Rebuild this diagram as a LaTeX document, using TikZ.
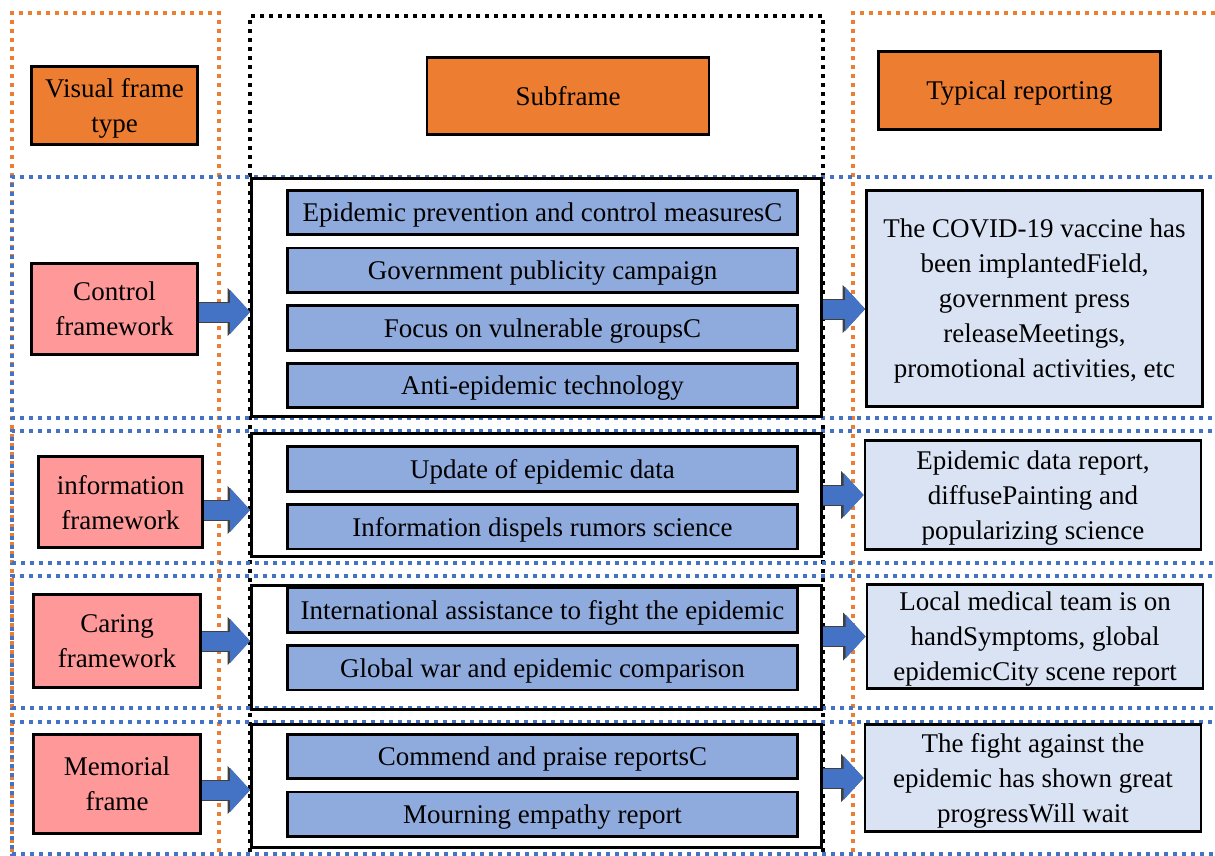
\documentclass[tikz,border=0pt]{standalone}
\usepackage{fontspec}
\setmainfont{Liberation Serif}
\usetikzlibrary{positioning,calc,arrows.meta}
\definecolor{hdrorange}{HTML}{ED7D31}
\definecolor{frmpink}{HTML}{FF9999}
\definecolor{subblue}{HTML}{8FAADC}
\definecolor{replight}{HTML}{DAE3F3}
\definecolor{arrblue}{HTML}{4472C4}
\begin{document}
\begin{tikzpicture}[x=1pt,y=-1pt,
				every node/.style={draw,line width=2.8pt,inner sep=0pt,text depth=0pt,align=center,font=\fontsize{27pt}{35pt}\selectfont},
				hdr/.style={fill=hdrorange,minimum width=282pt,minimum height=78pt},
				frm/.style={fill=frmpink,minimum width=166pt},
				sub/.style={fill=subblue,minimum width=510pt,minimum height=44.5pt,node distance=10.4pt},
				rep/.style={fill=replight,minimum width=336pt},
				grp/.style={minimum width=570pt},
				dots/.style={line width=3.5pt,dash pattern=on 4pt off 5pt},
				odots/.style={dots,draw=hdrorange},
				bdots/.style={dots,draw=arrblue},
				kdots/.style={dots,draw=black},
				arr/.style={draw=arrblue,line width=19pt,-{Triangle[length=20pt,width=44pt,line width=0pt]},
					preaction={draw=black!75,line width=21pt,-{Triangle[length=22.5pt,width=48pt,line width=0pt]}}}]
				\useasboundingbox (0,0) rectangle (1215,856);
				% column and row frames
				\draw[odots] (12,870) -- (12,13) -- (219,13) -- (219,870);
				\draw[odots] (853,870) -- (853,13) -- (1230,13);
				\draw[kdots] (250,870) -- (250,16) -- (823,16) -- (823,870);
				\draw[bdots] (1230,177) -- (12,177) -- (12,418) -- (1230,418);
				\draw[bdots] (1230,431) -- (12,431) -- (12,563) -- (1230,563);
				\draw[bdots] (1230,576) -- (12,576) -- (12,708) -- (1230,708);
				\draw[bdots] (1230,722) -- (12,722) -- (12,854) -- (1230,854);
				
				\node (H1) [hdr,minimum width=166pt] at (114.5,105.5) {Visual frame\\type};
				\node (H2) [hdr,minimum height=77pt] at (568,96)     {Subframe};
				\node (H3) [hdr]                     at (1019.5,90.5) {Typical reporting};
				
				\node (G1) [grp,minimum height=238pt] at (536.5,297.5) {};
				\node (G2) [grp,minimum height=123pt] at (536.5,495)   {};
				\node (G3) [grp,minimum height=124pt] at (536.5,647.5) {};
				\node (G4) [grp,minimum height=123pt] at (536.5,786)   {};
				
				\node (C1) [frm,minimum height=91pt]                     at (114.5,309) {Control\\framework};
				\node (C2) [frm,minimum height=91pt,minimum width=164pt] at (120.5,502) {information\\framework};
				\node (C3) [frm,minimum height=93pt,minimum width=167pt] at (117,641)   {Caring\\framework};
				\node (C4) [frm,minimum height=99pt,minimum width=167pt] at (117,784)   {Memorial\\frame};
				
				\node (S11) [sub] at (542.5,212.5) {Epidemic prevention and control measuresC};
				\node (S12) [sub,below=of S11]     {Government publicity campaign};
				\node (S13) [sub,below=of S12]     {Focus on vulnerable groupsC};
				\node (S14) [sub,below=of S13]     {Anti-epidemic technology};
				\node (S21) [sub] at (542.5,469)   {Update of epidemic data};
				\node (S22) [sub,below=of S21]     {Information dispels rumors science};
				\node (S31) [sub] at (542.5,610)   {International assistance to fight the epidemic};
				\node (S32) [sub,below=of S31]     {Global war and epidemic comparison};
				\node (S41) [sub] at (542.5,756.5) {Commend and praise reportsC};
				\node (S42) [sub,below=of S41]     {Mourning empathy report};
				
				\node (R1) [rep,minimum height=216pt] at (1034.5,298.5) {The COVID-19 vaccine has\\been implantedField,\\government press\\releaseMeetings,\\promotional activities, etc};
				\node (R2) [rep,minimum height=109pt] at (1033,495)     {Epidemic data report,\\diffusePainting and\\popularizing science};
				\node (R3) [rep,minimum height=104pt] at (1035,636.5)   {Local medical team is on\\handSymptoms, global\\epidemicCity scene report};
				\node (R4) [rep,minimum height=107pt] at (1033,778)     {The fight against the\\epidemic has shown great\\progressWill wait};
				
				\draw[arr] ([yshift=-3pt]C1.east) -- ([yshift=-3pt]C1.east -| G1.west);
				\draw[arr] ([yshift=-8pt]C2.east) -- ([yshift=-8pt]C2.east -| G2.west);
				\draw[arr] (C3.east) -- (C3.east -| G3.west);
				\draw[arr] ([yshift=-6pt]C4.east) -- ([yshift=-6pt]C4.east -| G4.west);
				\draw[arr] (G1.east |- C1.east) -- (R1.west |- C1.east);
				\draw[arr] (G2.east |- R2.west) -- (R2.west);
				\draw[arr] (G3.east |- R3.west) -- (R3.west);
				\draw[arr] (G4.east |- R4.west) -- (R4.west);
			\end{tikzpicture}
\end{document}
